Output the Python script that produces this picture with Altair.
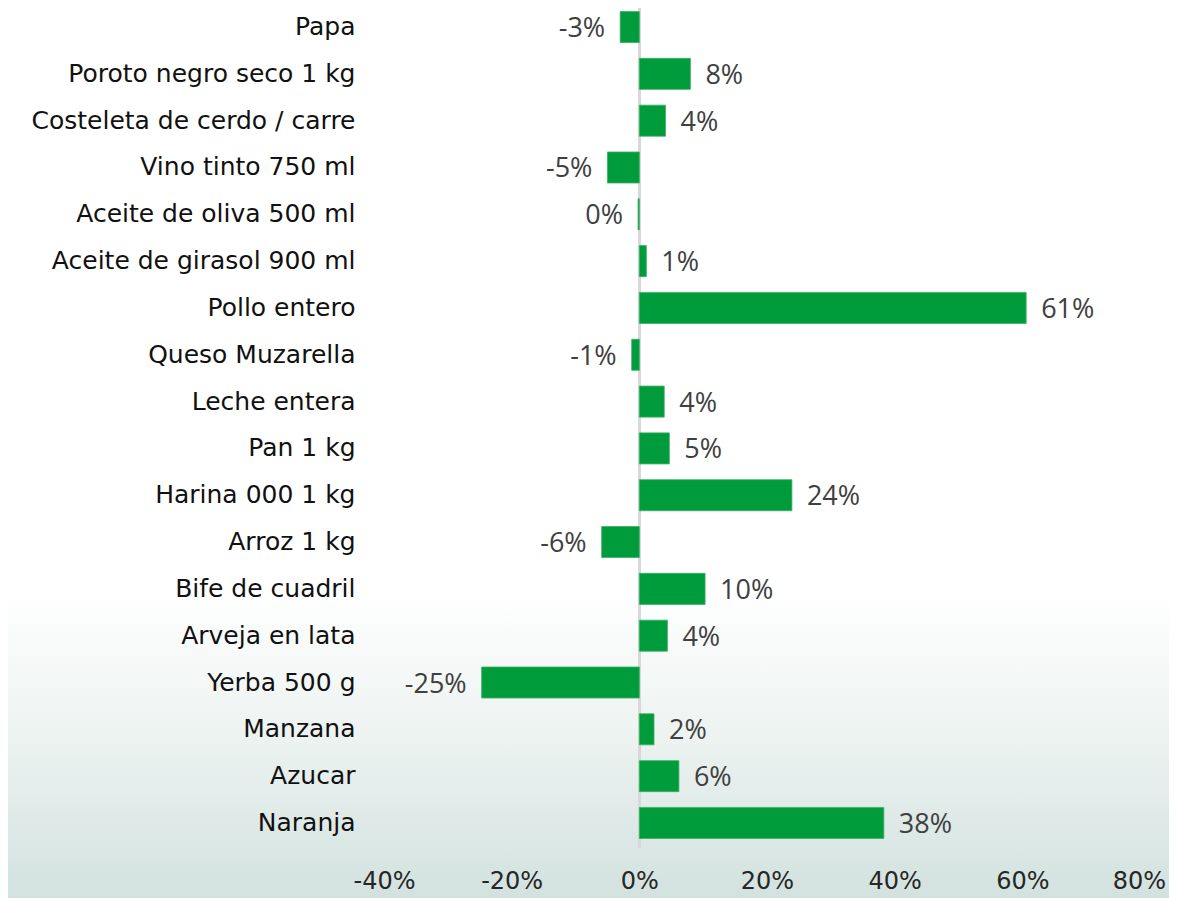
import altair as alt
import pandas as pd

products = ["Papa", "Poroto negro seco 1 kg", "Costeleta de cerdo / carre", "Vino tinto 750 ml",
            "Aceite de oliva 500 ml", "Aceite de girasol 900 ml", "Pollo entero", "Queso Muzarella",
            "Leche entera", "Pan 1 kg", "Harina 000 1 kg", "Arroz 1 kg", "Bife de cuadril",
            "Arveja en lata", "Yerba 500 g", "Manzana", "Azucar", "Naranja"]
values = [-3.0, 8.0, 4.1, -5.0, -0.2, 1.1, 60.6, -1.2, 3.9, 4.7, 23.9, -5.9, 10.3, 4.4, -24.7, 2.3, 6.2, 38.3]
labels = ["-3%", "8%", "4%", "-5%", "0%", "1%", "61%", "-1%", "4%", "5%", "24%", "-6%", "10%", "4%",
          "-25%", "2%", "6%", "38%"]
ticks = [-40, -20, 0, 20, 40, 60, 80]

df = pd.DataFrame({"producto": products, "valor": values, "etiqueta": labels})

W, H = 766, 834

xscale = alt.Scale(domain=[-40, 80], nice=False)
yscale = alt.Scale(domain=products, paddingInner=0.337, paddingOuter=0.075)

base = alt.Chart(df)

bg = base.mark_rect(
    fill=alt.LinearGradient(
        gradient="linear", x1=0, y1=0, x2=0, y2=1,
        stops=[alt.GradientStop(offset=0, color="#ffffff"),
               alt.GradientStop(offset=0.65, color="#ffffff"),
               alt.GradientStop(offset=0.8, color="#eef4f2"),
               alt.GradientStop(offset=1, color="#d1e1de")]
    )
).encode(x=alt.value(-384), x2=alt.value(W + 30), y=alt.value(-8), y2=alt.value(H + 64))

zero = base.mark_rule(color="#d9d9d9", strokeWidth=2).encode(
    x=alt.datum(0, scale=xscale), y=alt.value(0), y2=alt.value(H + 6)
)

bars = base.mark_bar(color="#009c3b", stroke="#3cae66", strokeWidth=0.8).encode(
    x=alt.X("valor:Q", scale=xscale,
            axis=alt.Axis(values=ticks, labelExpr="datum.value + '%'", domain=False, ticks=False,
                          grid=False, title=None, labelFont="DejaVu Sans", labelFontSize=24,
                          labelColor="#262626", labelPadding=27, labelFlush=False,
                          labelOffset=alt.condition("datum.value == 80", alt.value(-11), alt.value(0)),
                          zindex=1)),
    x2=alt.datum(0),
    y=alt.Y("producto:N", scale=yscale, sort=products,
            axis=alt.Axis(domain=False, ticks=False, title=None, labelFont="DejaVu Sans",
                          labelFontSize=25, labelColor="#111111", labelPadding=29,
                          labelLimit=400, zindex=1)),
)

txt_pos = base.transform_filter("datum.valor >= 0").mark_text(
    align="left", baseline="middle", dx=15, dy=2, font="Open Sans", fontSize=27, color="#404040"
).encode(x=alt.X("valor:Q", scale=xscale), y=alt.Y("producto:N", scale=yscale, sort=products),
         text="etiqueta:N")

txt_neg = base.transform_filter("datum.valor < 0").mark_text(
    align="right", baseline="middle", dx=-15, dy=2, font="Open Sans", fontSize=27, color="#404040"
).encode(x=alt.X("valor:Q", scale=xscale), y=alt.Y("producto:N", scale=yscale, sort=products),
         text="etiqueta:N")

chart = alt.layer(bg, zero, bars, txt_pos, txt_neg).properties(
    width=W, height=H, autosize="none",
    padding={"left": 376, "top": 0, "right": 19, "bottom": 56},
    background="white"
).configure_view(stroke=None)

chart.save("out.html", embed_options={"renderer": "svg", "actions": False})
